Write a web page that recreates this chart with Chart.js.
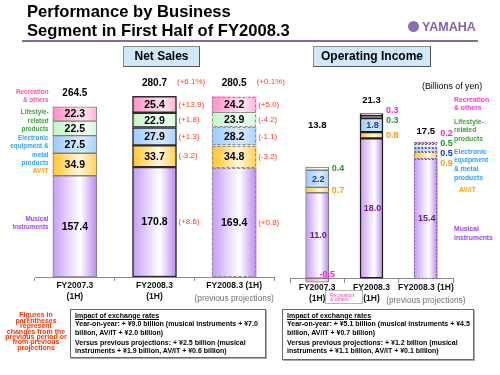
<!DOCTYPE html>
<html>
<head>
<meta charset="utf-8">
<script src="https://cdn.jsdelivr.net/npm/chart.js@4.4.1/dist/chart.umd.min.js"></script>
<style>
  body { margin: 0; background: #fff; }
  #page { position: relative; width: 500px; height: 375px; overflow: hidden; font-family: "Liberation Sans", Arial, sans-serif; color: #000; }
  #page canvas { position: absolute; left: 0; top: 0; }
  .t { position: absolute; white-space: nowrap; }
  .title { left: 27px; top: 2.3px; font-size: 16.6px; font-weight: bold; line-height: 19px; }
  .rule { position: absolute; left: 22px; top: 40px; width: 456px; height: 2px; background: #8466ad; }
  .emblem { position: absolute; left: 408px; top: 21px; width: 11px; height: 11px; border-radius: 50%; background: #8c6db3; }
  .logo { left: 422px; top: 20px; font-size: 12.5px; font-weight: bold; color: #8263ab; line-height: 14px; }
  .head { position: absolute; top: 46px; height: 21px; box-sizing: border-box; border: 1px solid #8a8a8a; border-right-color: #555; border-bottom-color: #555;
          background: #cfe9fb; font-size: 12px; font-weight: bold; line-height: 19px; text-align: center; }
  .lgl { right: 451.5px; text-align: right; font-size: 6.3px; font-weight: bold; line-height: 8.6px; }
  .lgr { left: 454px; font-size: 6.8px; font-weight: bold; line-height: 8.5px; }
  .note { position: absolute; top: 309px; box-sizing: border-box; border: 1px solid #6a6a6a; box-shadow: 1px 1px 0 #aaa;
          padding: 1.6px 0 0 4px; font-size: 7px; font-weight: bold; line-height: 8.8px; white-space: nowrap; }
  .note .u { text-decoration: underline; }
  .red { left: 0; width: 72px; top: 312.3px; text-align: center; font-size: 7px; font-weight: bold; line-height: 5.4px; color: #ff3300; }
  .callout { position: absolute; left: 325px; top: 290px; width: 38px; height: 14px; box-sizing: border-box; border: 1px solid #b4b4b4;
             padding: 1.5px 0 0 4px; font-size: 5px; line-height: 4.6px; color: #ff44aa; white-space: nowrap; }
</style>
</head>
<body>
<div id="page">
  <canvas id="sales" width="500" height="375"></canvas>
  <canvas id="income" width="500" height="375"></canvas>

  <div class="t title">Performance by Business<br>Segment in First Half of FY2008.3</div>
  <div class="rule"></div>
  <div class="emblem"></div>
  <div class="t logo">YAMAHA</div>

  <div class="head" style="left:123px;width:77px;">Net Sales</div>
  <div class="head" style="left:313px;width:118px;">Operating Income</div>

  <div class="t lgl" style="top:87.7px;color:#ff4fa7;">Recreation<br>&amp; others</div>
  <div class="t lgl" style="top:108px;color:#3f9f3f;">Lifestyle-<br>related<br>products</div>
  <div class="t lgl" style="top:133.7px;color:#2fa0f5;">Electronic<br>equipment &amp;<br>metal<br>products</div>
  <div class="t lgl" style="top:167px;color:#ff9f00;">AV/IT</div>
  <div class="t lgl" style="top:214.7px;color:#9b45ec;">Musical<br>instruments</div>

  <div class="t" style="left:422px;top:81px;font-size:8.8px;line-height:10px;">(Billions of yen)</div>
  <div class="t lgr" style="top:95.5px;color:#ff33dd;">Recreation<br>&amp; others</div>
  <div class="t lgr" style="top:117.5px;color:#3f9f3f;">Lifestyle-<br>related<br>products</div>
  <div class="t lgr" style="top:147.7px;color:#2fa0f5;line-height:8.7px;">Electronic<br>equipment<br>&amp; metal<br>products</div>
  <div class="t lgr" style="left:459px;top:185.7px;color:#ffa500;">AV/IT</div>
  <div class="t lgr" style="top:225px;color:#9b45ec;line-height:8.7px;">Musical<br>instruments</div>

  <div class="callout">Recreation<br>&amp; others</div>

  <div class="t red">Figures in<br>parentheses<br>represent<br>changes from the<br>previous period or<br>from previous<br>projections</div>

  <div class="note" style="left:70px;width:196px;height:49px;">
    <div class="u">Impact of exchange rates</div>
    <div>Year-on-year: + ¥9.0 billion (musical instruments + ¥7.0<br>billion, AV/IT + ¥2.0 billion)</div>
    <div style="margin-top:0.6px;">Versus previous projections: + ¥2.5 billion (musical<br>instruments + ¥1.9 billion, AV/IT + ¥0.6 billion)</div>
  </div>
  <div class="note" style="left:282px;width:192px;height:51px;">
    <div class="u">Impact of exchange rates</div>
    <div>Year-on-year: + ¥5.1 billion (musical instruments + ¥4.5<br>billion, AV/IT + ¥0.7 billion)</div>
    <div style="margin-top:0.6px;">Versus previous projections: + ¥1.2 billion (musical<br>instruments + ¥1.1 billion, AV/IT + ¥0.1 billion)</div>
  </div>
</div>

<script>
// categories and tick labels
const categories = ['FY2007.3 (1H)', 'FY2008.3 (1H)', 'FY2008.3 (1H) (previous projections)'];
const tickLines = [['FY2007.3', '(1H)'], ['FY2008.3', '(1H)'], 'FY2008.3 (1H)'];
const subLabel = '(previous projections)';
const segments = ['Musical instruments', 'AV/IT', 'Electronic equipment & metal products',
                  'Lifestyle-related products', 'Recreation & others'];

// net sales, billions of yen (bottom segment first)
const salesMusical = [157.4, 170.8, 169.4];
const salesAvit = [34.9, 33.7, 34.8];
const salesElectronic = [27.5, 27.9, 28.2];
const salesLifestyle = [22.5, 22.9, 23.9];
const salesRecreation = [22.3, 25.4, 24.2];
const salesTotals = ['264.5', '280.7', '280.5'];
const salesTotalChange = ['', '(+6.1%)', '(+0.1%)'];

// changes from previous period / previous projections
const chgMusical = ['', '(+8.6)', '(+0.8)'];
const chgAvit = ['', '(-3.2)', '(-3.2)'];
const chgElectronic = ['', '(+1.3)', '(-1.1)'];
const chgLifestyle = ['', '(+1.8)', '(-4.2)'];
const chgRecreation = ['', '(+13.9)', '(+5.0)'];

// operating income, billions of yen
const oiMusical = [11.0, 18.0, 15.4];
const oiAvit = [0.7, 0.8, 0.9];
const oiElectronic = [2.2, 1.8, 0.5];
const oiLifestyle = [0.4, 0.3, 0.5];
const oiRecreation = [-0.5, 0.3, 0.2];
const oiTotals = ['13.8', '21.3', '17.5'];

// ---- styling ----
const FONT = '"Liberation Sans", Arial, sans-serif';
const RED = '#ff3a1a';
const FILLS = [
  [[0, '#c59cf6'], [0.62, '#ffffff'], [1, '#b98af0']],   // musical
  [[0, '#ffc62a'], [0.6, '#fff6dc'], [1, '#ffd055']],   // AV/IT
  [[0, '#9ccaff'], [0.65, '#d6ebff'], [1, '#a9d2ff']],  // electronic
  [[0, '#c6f2c6'], [0.7, '#f4fff4'], [1, '#d8f8d8']],   // lifestyle
  [[0, '#ff8fc6'], [0.7, '#ffe6f2'], [1, '#ffb3d9']]    // recreation
];
const oiTextColors = ['#6f1a99', '#ff9a00', '#1536c0', '#2f8f2f', '#ff1ad0'];
const oiTotalLift = [42, 13, 11];

function barFill(stops, width) {
  return ctx => {
    const chart = ctx.chart;
    const xs = chart.scales && chart.scales.x;
    if (ctx.type !== 'data' || !chart.chartArea || !xs) return stops[0][1];
    const cx = xs.getPixelForValue(ctx.dataIndex);
    const g = chart.ctx.createLinearGradient(cx - width / 2, 0, cx + width / 2, 0);
    stops.forEach(s => g.addColorStop(s[0], s[1]));
    return g;
  };
}

function spread(items, gap) {
  items.sort((a, b) => a.y - b.y);
  const groups = items.map(it => ({ list: [it], c: it.y }));
  let merged = true;
  while (merged) {
    merged = false;
    for (let k = 0; k < groups.length - 1; k++) {
      const a = groups[k], b = groups[k + 1];
      const aBottom = a.c + (a.list.length - 1) * gap / 2;
      const bTop = b.c - (b.list.length - 1) * gap / 2;
      if (bTop - aBottom < gap) {
        const list = a.list.concat(b.list);
        const c = list.reduce((s, it) => s + it.y, 0) / list.length;
        groups.splice(k, 2, { list, c });
        merged = true;
        break;
      }
    }
  }
  groups.forEach(g => g.list.forEach((it, n) => { it.py = g.c + (n - (g.list.length - 1) / 2) * gap; }));
}

function outlineProjection(chart, dash, color) {
  const c = chart.ctx;
  c.save();
  c.setLineDash(dash);
  c.strokeStyle = color;
  c.lineWidth = 1;
  chart.data.datasets.forEach((d, i) => {
    const bar = chart.getDatasetMeta(i).data[2];
    const top = Math.min(bar.y, bar.base), h = Math.abs(bar.base - bar.y);
    c.strokeRect(Math.round(bar.x - bar.width / 2) + 0.5, Math.round(top) + 0.5, Math.round(bar.width) - 1, Math.max(Math.round(h) - 1, 1));
  });
  c.restore();
}

function drawSubLabel(chart, yOff) {
  const c = chart.ctx;
  c.save();
  c.font = '8.3px ' + FONT;
  c.fillStyle = '#707070';
  c.textAlign = 'center';
  c.textBaseline = 'middle';
  c.fillText(subLabel, chart.scales.x.getPixelForValue(2), chart.scales.y.getPixelForValue(0) + yOff);
  c.restore();
}

const common = {
  responsive: false,
  animation: false,
  events: [],
  plugins: { legend: { display: false }, tooltip: { enabled: false } }
};

function xAxis(lineHeight, height, position) {
  return {
    stacked: true,
    position: position,
    grid: { offset: true, drawOnChartArea: false, tickLength: 4, color: '#8a8a8a' },
    border: { color: '#8a8a8a' },
    ticks: { color: '#111', padding: 0, maxRotation: 0, autoSkip: false,
             font: { family: FONT, size: 8.5, weight: 'bold', lineHeight: lineHeight } },
    afterFit: s => { s.height = height; }
  };
}

// ---- Net sales ----
const salesData = [salesMusical, salesAvit, salesElectronic, salesLifestyle, salesRecreation];
const salesChanges = [chgMusical, chgAvit, chgElectronic, chgLifestyle, chgRecreation];
const salesBorder = ['#7f7f7f', '#2b2b2b', '#888'];
const salesBorderW = [1, 1.5, 0];

const salesMarks = {
  id: 'salesMarks',
  afterDatasetsDraw(chart) {
    outlineProjection(chart, [3, 2], '#8c8c8c');
    const c = chart.ctx;
    const sets = chart.data.datasets;
    c.save();
    c.textBaseline = 'middle';
    sets.forEach((d, i) => {
      chart.getDatasetMeta(i).data.forEach((bar, j) => {
        const mid = (bar.y + bar.base) / 2;
        c.font = 'bold 10.5px ' + FONT;
        c.fillStyle = '#000';
        c.textAlign = 'center';
        c.fillText(d.data[j].toFixed(1), bar.x, mid + 0.5);
        if (d.changes[j]) {
          c.font = '8px ' + FONT;
          c.fillStyle = RED;
          c.textAlign = 'left';
          c.fillText(d.changes[j], bar.x + bar.width / 2 + 2, mid);
        }
      });
    });
    chart.getDatasetMeta(sets.length - 1).data.forEach((bar, j) => {
      c.font = 'bold 10px ' + FONT;
      c.fillStyle = '#000';
      c.textAlign = 'center';
      c.fillText(salesTotals[j], bar.x, bar.y - 13.5);
      if (salesTotalChange[j]) {
        c.font = '8px ' + FONT;
        c.fillStyle = RED;
        c.textAlign = 'left';
        c.fillText(salesTotalChange[j], bar.x + bar.width / 2 + 0.5, bar.y - 14.5);
      }
    });
    c.restore();
  },
  afterDraw(chart) { drawSubLabel(chart, 22); }
};

new Chart(document.getElementById('sales'), {
  type: 'bar',
  data: {
    labels: tickLines,
    datasets: salesData.map((vals, i) => ({
      label: segments[i],
      data: vals,
      changes: salesChanges[i],
      barThickness: 44,
      backgroundColor: barFill(FILLS[i], 44),
      borderColor: ctx => ctx.type === 'data' ? salesBorder[ctx.dataIndex] : '#888',
      borderWidth: ctx => ctx.type === 'data' ? salesBorderW[ctx.dataIndex] : 1,
      borderSkipped: false
    }))
  },
  options: Object.assign({}, common, {
    layout: { padding: { top: 84, left: 35, right: 226, bottom: 0 } },
    scales: {
      x: xAxis(1.2, 98, 'bottom'),
      y: { stacked: true, display: false, min: 0, max: 300 }
    }
  }),
  plugins: [salesMarks]
});

// ---- Operating income ----
const oiData = [oiMusical, oiAvit, oiElectronic, oiLifestyle, oiRecreation];
const oiBorder = ['#7b7b7b', '#1e1e1e', '#7a5aa6'];
const oiBorderW = [1, 1.5, 0];

const incomeMarks = {
  id: 'incomeMarks',
  afterDatasetsDraw(chart) {
    outlineProjection(chart, [2, 1.5], '#7a5aa6');
    const c = chart.ctx;
    const sets = chart.data.datasets;
    const zero = chart.scales.y.getPixelForValue(0);
    const outside = [[], [], []];
    const tops = [zero, zero, zero];
    const xs = [0, 0, 0];
    c.save();
    c.textBaseline = 'middle';
    c.font = 'bold 9px ' + FONT;
    sets.forEach((d, i) => {
      chart.getDatasetMeta(i).data.forEach((bar, j) => {
        const v = d.data[j];
        const txt = v.toFixed(1);
        const h = Math.abs(bar.base - bar.y);
        xs[j] = bar.x;
        c.fillStyle = oiTextColors[i];
        if (v < 0) {
          c.textAlign = 'center';
          c.fillText(txt, bar.x + 10, zero - 4);
          return;
        }
        tops[j] = Math.min(tops[j], bar.y);
        if (h >= 12) {
          c.textAlign = 'center';
          c.fillText(txt, bar.x + 1, (bar.y + bar.base) / 2 + 0.5);
        } else {
          outside[j].push({ y: (bar.y + bar.base) / 2, txt, color: oiTextColors[i], x: bar.x + bar.width / 2 + 3 });
        }
      });
    });
    c.textAlign = 'left';
    outside.forEach(list => {
      spread(list, 10);
      list.forEach(it => { c.fillStyle = it.color; c.fillText(it.txt, it.x, it.py); });
    });
    c.font = 'bold 9.5px ' + FONT;
    c.fillStyle = '#000';
    c.textAlign = 'center';
    tops.forEach((t, j) => c.fillText(oiTotals[j], xs[j], t - oiTotalLift[j]));
    c.restore();
  },
  afterDraw(chart) { drawSubLabel(chart, 22); }
};

new Chart(document.getElementById('income'), {
  type: 'bar',
  data: {
    labels: tickLines,
    datasets: oiData.map((vals, i) => ({
      label: segments[i],
      data: vals,
      barThickness: 23,
      backgroundColor: barFill(FILLS[i], 23),
      borderColor: ctx => ctx.type === 'data' ? oiBorder[ctx.dataIndex] : '#888',
      borderWidth: ctx => ctx.type === 'data' ? oiBorderW[ctx.dataIndex] : 1,
      borderSkipped: false
    }))
  },
  options: Object.assign({}, common, {
    layout: { padding: { top: 84, left: 290, right: 47, bottom: 89 } },
    scales: {
      x: xAxis(1.3, 0, { y: 0 }),
      y: { stacked: true, display: false, min: -1, max: 25 }
    }
  }),
  plugins: [incomeMarks]
});
</script>
</body>
</html>
